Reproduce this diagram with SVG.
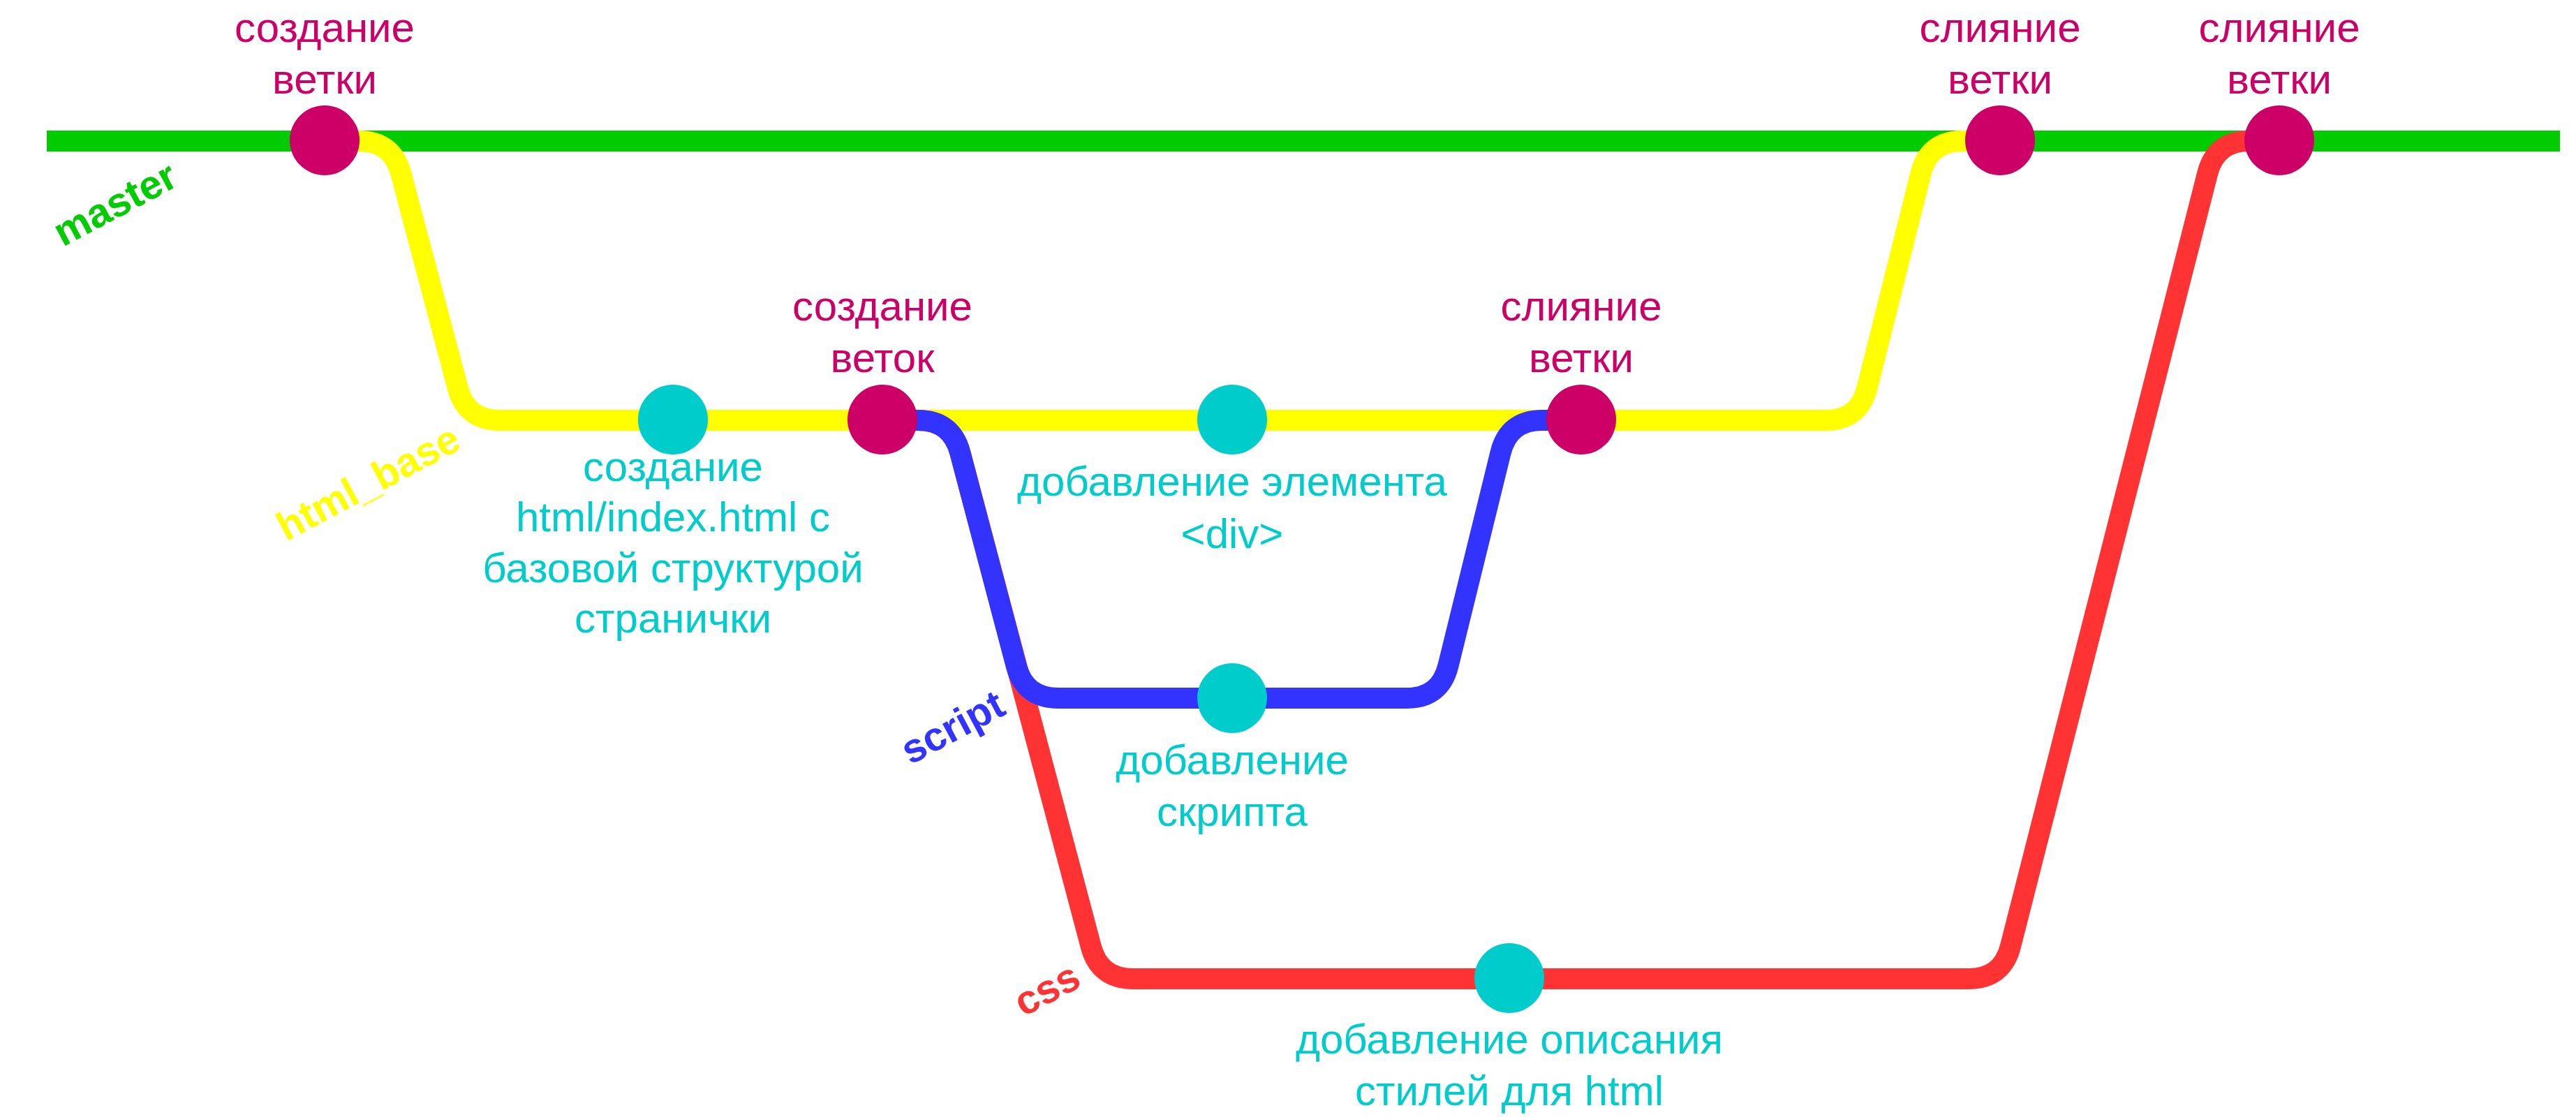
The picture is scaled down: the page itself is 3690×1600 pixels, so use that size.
<svg xmlns="http://www.w3.org/2000/svg" width="3690" height="1600" viewBox="0 0 3690 1600">
<style>
.line{fill:none;stroke-width:30;stroke-linejoin:round}
.merge{fill:#CC0066}
.commit{fill:#00CCCC}
.lm{font-family:"Liberation Sans",Arial,sans-serif;font-size:60px;fill:#CC0066;text-anchor:middle}
.lc{font-family:"Liberation Sans",Arial,sans-serif;font-size:60px;fill:#00CCCC;text-anchor:middle}
.br{font-family:"Liberation Sans",Arial,sans-serif;font-size:58px;font-weight:bold}
</style>
<rect width="3690" height="1600" fill="#FFFFFF"/>
<g id="connectors">
<path id="master" class="line" stroke="#00CC00" d="M67,202 H3667"/>
<path id="html_base" class="line" stroke="#FFFF00" d="M465,202 H514 Q562,202 574.3,248.4 L655.7,555.6 Q668,602 716,602 H2615 Q2663,602 2674.6,555.4 L2751.4,248.6 Q2763,202 2811,202 H2865"/>
<path id="css" class="line" stroke="#FF3333" d="M1264,602 H1315 Q1363,602 1375.3,648.4 L1562.7,1355.6 Q1575,1402 1623,1402 H2820 Q2868,1402 2879.9,1355.5 L3162.1,248.5 Q3174,202 3222,202 H3265"/>
<path id="script" class="line" stroke="#3333FF" stroke-width="32" d="M1264,602 H1315 Q1363,602 1375.3,648.4 L1455.7,953.6 Q1468,1000 1516,1000 H2015 Q2063,1000 2074.5,953.4 L2149.5,648.6 Q2161,602 2209,602 H2265"/>
</g>
<g id="branch-labels">
<text class="br" fill="#00CC00" transform="translate(90,354) rotate(-28)">master</text>
<text class="br" fill="#FFFF00" transform="translate(410,776) rotate(-28)">html_base</text>
<text class="br" fill="#3333FF" transform="translate(1304,1096) rotate(-28)">script</text>
<text class="br" fill="#FF3333" transform="translate(1466,1457) rotate(-28)">css</text>
</g>
<g id="node-create-branch">
<circle class="merge" cx="465" cy="201" r="50"/>
<text class="lm" x="465" y="60">создание</text>
<text class="lm" x="465" y="134">ветки</text>
</g>
<g id="node-create-index">
<circle class="commit" cx="964" cy="601" r="50"/>
<text class="lc" x="964" y="689">создание</text>
<text class="lc" x="964" y="761">html/index.html с</text>
<text class="lc" x="964" y="834">базовой структурой</text>
<text class="lc" x="964" y="906">странички</text>
</g>
<g id="node-create-branches">
<circle class="merge" cx="1264" cy="601" r="50"/>
<text class="lm" x="1264" y="459">создание</text>
<text class="lm" x="1264" y="533">веток</text>
</g>
<g id="node-add-div">
<circle class="commit" cx="1765" cy="601" r="50"/>
<text class="lc" x="1765" y="710">добавление элемента</text>
<text class="lc" x="1765" y="785">&lt;div&gt;</text>
</g>
<g id="node-merge-script">
<circle class="merge" cx="2265" cy="601" r="50"/>
<text class="lm" x="2265" y="459">слияние</text>
<text class="lm" x="2265" y="533">ветки</text>
</g>
<g id="node-add-script">
<circle class="commit" cx="1765" cy="1000" r="50"/>
<text class="lc" x="1765" y="1109">добавление</text>
<text class="lc" x="1765" y="1183">скрипта</text>
</g>
<g id="node-add-css">
<circle class="commit" cx="2162" cy="1401" r="50"/>
<text class="lc" x="2162" y="1509">добавление описания</text>
<text class="lc" x="2162" y="1583">стилей для html</text>
</g>
<g id="node-merge-html">
<circle class="merge" cx="2865" cy="201" r="50"/>
<text class="lm" x="2865" y="60">слияние</text>
<text class="lm" x="2865" y="134">ветки</text>
</g>
<g id="node-merge-css">
<circle class="merge" cx="3265" cy="201" r="50"/>
<text class="lm" x="3265" y="60">слияние</text>
<text class="lm" x="3265" y="134">ветки</text>
</g>
</svg>
